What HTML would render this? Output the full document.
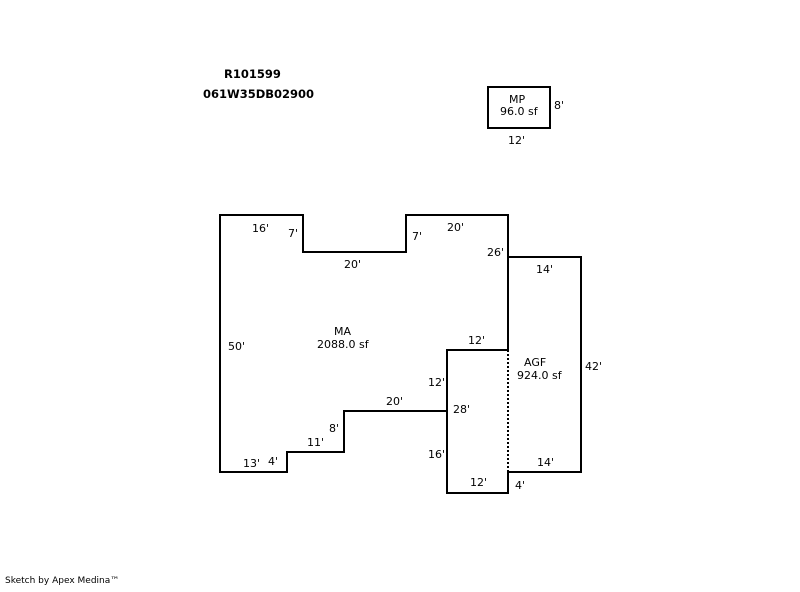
<!DOCTYPE html>
<html><head><meta charset="utf-8"><style>
html,body{margin:0;padding:0;background:#fff;}
svg text{font-family:"DejaVu Sans","Liberation Sans",sans-serif;font-size:11px;fill:#000;}
</style></head><body>
<svg width="800" height="587" xmlns="http://www.w3.org/2000/svg">
<g fill="none" stroke="#000" stroke-width="2">
<polyline points="508,350 447,350 447,411 344,411 344,452 287,452 287,472 220,472 220,215 303,215 303,252 406,252 406,215 508,215 508,350"/>
<polyline points="508,257 581,257 581,472 508,472 508,493 447,493 447,411"/>
<rect x="488" y="87" width="62" height="41"/>
</g>
<line x1="508" y1="350" x2="508" y2="472" stroke="#000" stroke-width="2" stroke-dasharray="2,2"/>
<text x="224" y="78" style="font-weight:bold;font-size:11.5px">R101599</text>
<text x="203" y="98" style="font-weight:bold;font-size:11.5px">061W35DB02900</text>
<text x="509" y="103">MP</text>
<text x="500" y="115">96.0 sf</text>
<text x="554" y="109">8'</text>
<text x="508" y="144">12'</text>
<text x="252" y="232">16'</text>
<text x="288" y="237">7'</text>
<text x="412" y="240">7'</text>
<text x="447" y="231">20'</text>
<text x="344" y="268">20'</text>
<text x="487" y="256">26'</text>
<text x="536" y="273">14'</text>
<text x="334" y="335">MA</text>
<text x="317" y="348">2088.0 sf</text>
<text x="228" y="350">50'</text>
<text x="468" y="344">12'</text>
<text x="524" y="366">AGF</text>
<text x="517" y="379">924.0 sf</text>
<text x="585" y="370">42'</text>
<text x="428" y="386">12'</text>
<text x="386" y="405">20'</text>
<text x="453" y="413">28'</text>
<text x="329" y="432">8'</text>
<text x="307" y="446">11'</text>
<text x="428" y="458">16'</text>
<text x="537" y="466">14'</text>
<text x="243" y="467">13'</text>
<text x="268" y="465">4'</text>
<text x="470" y="486">12'</text>
<text x="515" y="489">4'</text>
<text x="5" y="583" style="font-size:9px">Sketch by Apex Medina™</text>
</svg>
</body></html>
